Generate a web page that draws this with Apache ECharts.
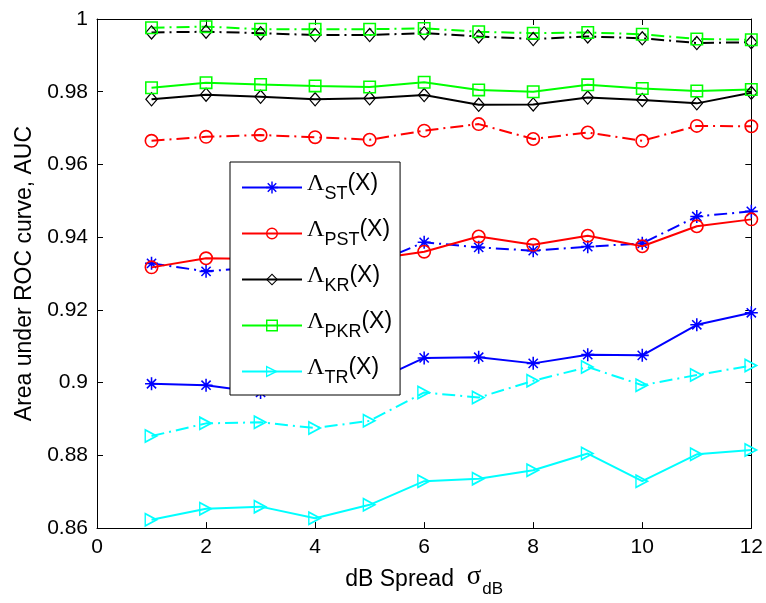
<!DOCTYPE html>
<html>
<head>
<meta charset="utf-8">
<title>AUC vs dB spread</title>
<script src="https://cdn.jsdelivr.net/npm/echarts@6/dist/echarts.min.js"></script>
<style>
html, body { margin: 0; padding: 0; background: #fff; }
#chart { width: 766px; height: 603px; }
</style>
</head>
<body>
<div id="chart"></div>
<script>
// x values (dB spread) and axis ticks
var spread = [1, 2, 3, 4, 5, 6, 7, 8, 9, 10, 11, 12];
var xTickLabels = ['0', '2', '4', '6', '8', '10', '12'];
var yTickLabels = ['0.86', '0.88', '0.9', '0.92', '0.94', '0.96', '0.98', '1'];

// solid curves (in legend)
var stSolid  = [0.8997, 0.8993, 0.8973, 0.9005, 0.8998, 0.9068, 0.9070, 0.9053, 0.9077, 0.9075, 0.9159, 0.9192];
var pstSolid = [0.9317, 0.9342, 0.9340, 0.9335, 0.9338, 0.9360, 0.9402, 0.9379, 0.9404, 0.9375, 0.9430, 0.9449];
var krSolid  = [0.9779, 0.9792, 0.9786, 0.9779, 0.9782, 0.9791, 0.9764, 0.9765, 0.9784, 0.9777, 0.9768, 0.9797];
var pkrSolid = [0.9811, 0.9825, 0.9820, 0.9816, 0.9813, 0.9826, 0.9805, 0.9800, 0.9819, 0.9809, 0.9802, 0.9806];
var trSolid  = [0.8623, 0.8653, 0.8659, 0.8627, 0.8664, 0.8729, 0.8736, 0.8759, 0.8805, 0.8729, 0.8803, 0.8815];

// dash-dot curves
var stDash  = [0.9328, 0.9306, 0.9318, 0.9320, 0.9323, 0.9386, 0.9372, 0.9363, 0.9374, 0.9383, 0.9457, 0.9471];
var pstDash = [0.9665, 0.9676, 0.9681, 0.9675, 0.9668, 0.9693, 0.9711, 0.9670, 0.9688, 0.9665, 0.9706, 0.9705];
var krDash  = [0.9963, 0.9965, 0.9961, 0.9956, 0.9956, 0.9961, 0.9952, 0.9945, 0.9952, 0.9947, 0.9934, 0.9936];
var pkrDash = [0.9976, 0.9979, 0.9972, 0.9972, 0.9972, 0.9974, 0.9965, 0.9961, 0.9963, 0.9958, 0.9945, 0.9943];
var trDash  = [0.8853, 0.8888, 0.8891, 0.8875, 0.8895, 0.8973, 0.8959, 0.9005, 0.9043, 0.8993, 0.9021, 0.9047];

// hollow marker outlines (matlab style, line shows through)
var mkStar = 'path://M-0.12,-1 L0.12,-1 L0.12,1 L-0.12,1 Z M-1,-0.12 L1,-0.12 L1,0.12 L-1,0.12 Z ' +
	'M-0.622,-0.792 L0.792,0.622 L0.622,0.792 L-0.792,-0.622 Z M-0.792,0.622 L0.622,-0.792 L0.792,-0.622 L-0.622,0.792 Z';
var mkCircle = 'path://M0,-1 A1,1 0 1,1 0,1 A1,1 0 1,1 0,-1 Z M0,-0.77 A0.77,0.77 0 1,0 0,0.77 A0.77,0.77 0 1,0 0,-0.77 Z';
var mkDiamond = 'path://M0,-1 L1,0 L0,1 L-1,0 Z M0,-0.75 L-0.75,0 L0,0.75 L0.75,0 Z';
var mkSquare = 'path://M-1,-1 L1,-1 L1,1 L-1,1 Z M-0.76,-0.76 L-0.76,0.76 L0.76,0.76 L0.76,-0.76 Z';
var mkTri = 'path://M-1,-1 L1,0 L-1,1 Z M-0.8,-0.63 L-0.8,0.63 L0.47,0 Z';

var dashDot = [13, 5, 2, 5];

function pairs(ys) {
	return spread.map(function(x, i){ return [x, ys[i]]; });
}

function curve(name, ys, color, symbol, size, dashed) {
	return {
		name: name,
		type: 'line',
		data: pairs(ys),
		symbol: symbol,
		symbolSize: size,
		showSymbol: true,
		z: dashed ? 2 : 3,
		lineStyle: { color: color, width: 2, type: dashed ? dashDot : 'solid' },
		itemStyle: { color: color, borderWidth: 0 },
		emphasis: { disabled: true }
	};
}

var chart = echarts.init(document.getElementById('chart'), null, { renderer: 'canvas' });

var axisFont = { fontFamily: 'Liberation Sans', fontSize: 21, color: '#000' };

var option = {
	animation: false,
	backgroundColor: '#fff',
	grid: { left: 97, right: 9, top: 19, bottom: 70, containLabel: false },
	xAxis: [{
		type: 'value', min: 0, max: 12, interval: 2,
		name: '{a|dB Spread  }{g|σ}{s|dB}',
		nameLocation: 'middle', nameGap: 33,
		nameTextStyle: {
			rich: {
				a: { fontFamily: 'Liberation Sans', fontSize: 23, color: '#000', verticalAlign: 'top' },
				g: { fontFamily: 'Liberation Serif', fontSize: 27, color: '#000', verticalAlign: 'top', padding: [-5, 0, 0, 0] },
				s: { fontFamily: 'Liberation Sans', fontSize: 17, color: '#000', verticalAlign: 'top', padding: [13, 0, 0, 1] }
			}
		},
		axisLine: { show: true, onZero: false, lineStyle: { color: '#000', width: 1 } },
		axisTick: { inside: true, length: 6, lineStyle: { color: '#000' } },
		axisLabel: Object.assign({ margin: 9, formatter: function(v){ return xTickLabels[Math.round(v / 2)]; } }, axisFont),
		splitLine: { show: false }
	}, {
		type: 'value', min: 0, max: 12, interval: 2, position: 'top',
		axisLine: { show: true, onZero: false, lineStyle: { color: '#000', width: 1 } },
		axisTick: { inside: true, length: 6, lineStyle: { color: '#000' } },
		axisLabel: { show: false },
		splitLine: { show: false }
	}],
	yAxis: [{
		type: 'value', min: 0.86, max: 1, interval: 0.02,
		name: 'Area under ROC curve, AUC',
		nameLocation: 'middle', nameGap: 61,
		nameTextStyle: { fontFamily: 'Liberation Sans', fontSize: 23, color: '#000' },
		axisLine: { show: true, onZero: false, lineStyle: { color: '#000', width: 1 } },
		axisTick: { inside: true, length: 6, lineStyle: { color: '#000' } },
		axisLabel: Object.assign({ margin: 9, formatter: function(v){ return yTickLabels[Math.round((v - 0.86) / 0.02)]; } }, axisFont),
		splitLine: { show: false }
	}, {
		type: 'value', min: 0.86, max: 1, interval: 0.02, position: 'right',
		axisLine: { show: true, onZero: false, lineStyle: { color: '#000', width: 1 } },
		axisTick: { inside: true, length: 6, lineStyle: { color: '#000' } },
		axisLabel: { show: false },
		splitLine: { show: false }
	}],
	legend: {
		data: ['ST', 'PST', 'KR', 'PKR', 'TR'],
		orient: 'vertical',
		left: 230, top: 162,
		itemWidth: 60, itemHeight: 15, itemGap: 15,
		padding: [10, 8, 8, 11],
		backgroundColor: '#fff',
		borderColor: '#000', borderWidth: 1,
		selectedMode: false,
		formatter: function(name){ return '{l|Λ}{s|' + name + '}{x|(X)}'; },
		textStyle: {
			rich: {
				l: { fontFamily: 'Liberation Serif', fontSize: 24, color: '#000', verticalAlign: 'top', padding: [0, 0, 0, 0] },
				s: { fontFamily: 'Liberation Sans', fontSize: 18, color: '#000', verticalAlign: 'top', padding: [13, 0, 0, 0] },
				x: { fontFamily: 'Liberation Sans', fontSize: 23, color: '#000', verticalAlign: 'top' }
			}
		}
	},
	series: [
		curve('ST',  stSolid,  '#0000ff', mkStar,    13,       false),
		curve('PST', pstSolid, '#ff0000', mkCircle,  14,       false),
		curve('KR',  krSolid,  '#000000', mkDiamond, [13, 15], false),
		curve('PKR', pkrSolid, '#00ff00', mkSquare,  13,       false),
		curve('TR',  trSolid,  '#00ffff', mkTri,     [14, 15], false),
		curve('ST dash',  stDash,  '#0000ff', mkStar,    13,       true),
		curve('PST dash', pstDash, '#ff0000', mkCircle,  14,       true),
		curve('KR dash',  krDash,  '#000000', mkDiamond, [13, 15], true),
		curve('PKR dash', pkrDash, '#00ff00', mkSquare,  13,       true),
		curve('TR dash',  trDash,  '#00ffff', mkTri,     [14, 15], true)
	]
};

chart.setOption(option);
</script>
</body>
</html>
